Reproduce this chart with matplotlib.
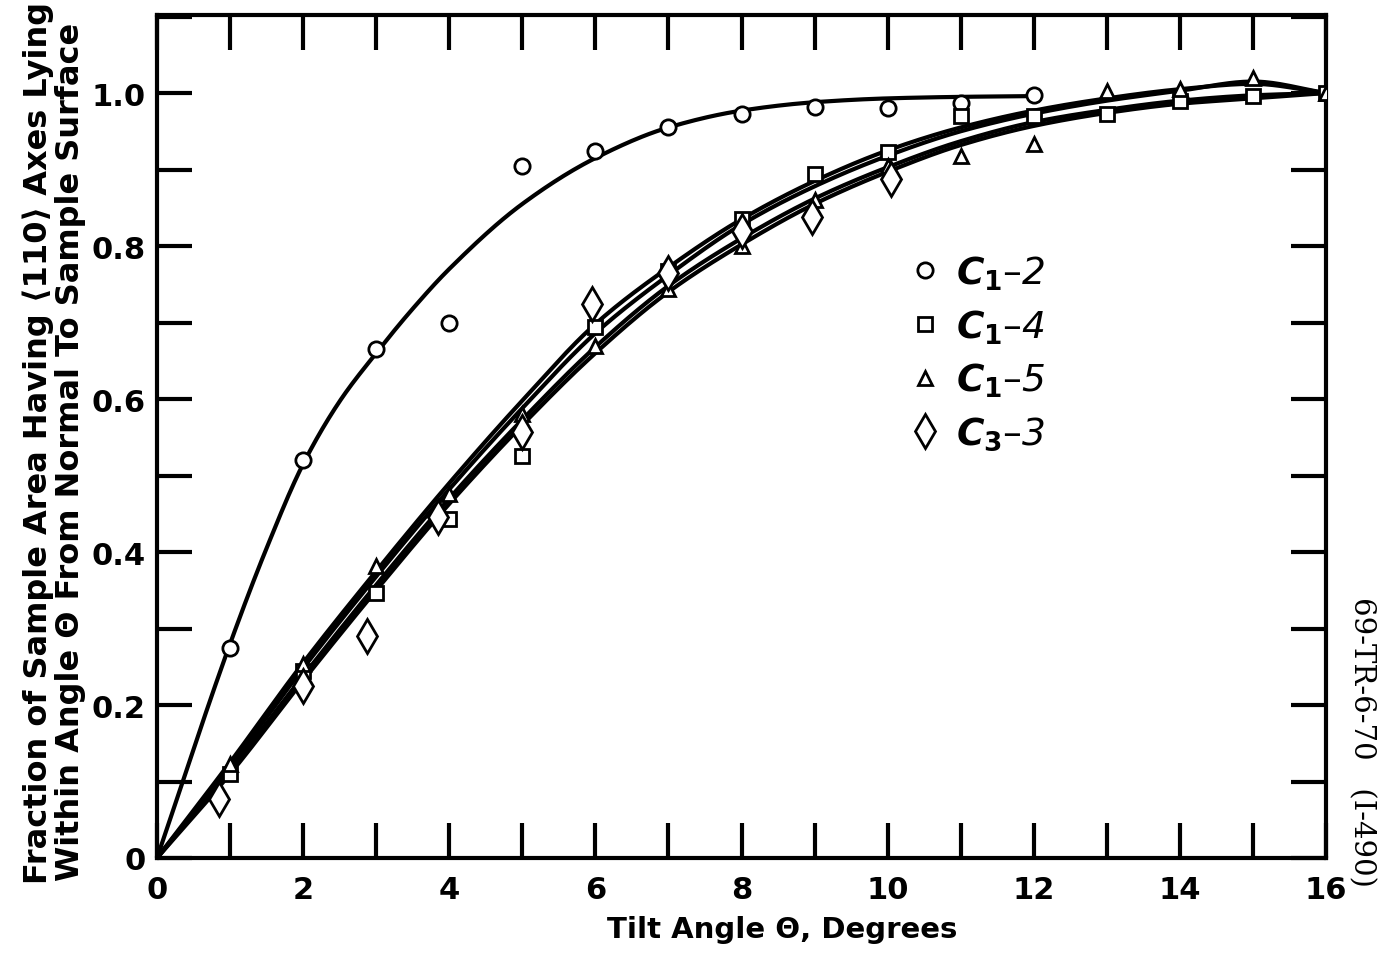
import numpy as np
import matplotlib
matplotlib.use("Agg")
import matplotlib.pyplot as plt

# ---------------- data ----------------
c12_x = [1, 2, 3, 4, 5, 6, 7, 8, 9, 10, 11, 12]
c12_y = [0.275, 0.52, 0.665, 0.70, 0.905, 0.924, 0.955, 0.973, 0.982, 0.981, 0.987, 0.998]

c14_x = [1, 2, 3, 4, 5, 6, 7, 8, 9, 10, 11, 12, 13, 14, 15, 16]
c14_y = [0.11, 0.245, 0.347, 0.443, 0.525, 0.694, 0.767, 0.835, 0.894, 0.923, 0.97, 0.97, 0.973, 0.99, 0.996, 1.0]

c15_x = [1, 2, 3, 4, 5, 6, 7, 8, 9, 10, 11, 12, 13, 14, 15, 16]
c15_y = [0.123, 0.254, 0.382, 0.476, 0.58, 0.669, 0.744, 0.80, 0.86, 0.905, 0.918, 0.933, 1.003, 1.005, 1.02, 1.0]

c33_x = [0.85, 2, 2.87, 3.85, 5, 5.95, 7, 8, 8.97, 10.04]
c33_y = [0.077, 0.225, 0.29, 0.446, 0.557, 0.724, 0.765, 0.82, 0.838, 0.888]

# fitted curves (read at knots)
fit12_x = [0, 1, 1.5, 2, 2.5, 3, 3.5, 4, 5, 6, 7, 8, 9, 10, 11, 12]
fit12_y = [0, 0.28, 0.405, 0.515, 0.597, 0.66, 0.718, 0.77, 0.855, 0.915, 0.955, 0.977, 0.988, 0.993, 0.995, 0.996]

fit_x = [0, 1, 2, 3, 4, 5, 6, 7, 8, 9, 10, 11, 12, 13, 14, 15, 16]
fit14_y = [0, 0.125, 0.255, 0.375, 0.49, 0.598, 0.698, 0.772, 0.835, 0.885, 0.925, 0.955, 0.977, 0.993, 1.005, 1.012, 1.0]
fit33_y = [0, 0.12, 0.248, 0.368, 0.482, 0.588, 0.686, 0.762, 0.828, 0.878, 0.918, 0.95, 0.973, 0.99, 1.003, 1.015, 1.0]
fit15_y = [0, 0.115, 0.238, 0.357, 0.47, 0.573, 0.668, 0.748, 0.81, 0.862, 0.903, 0.937, 0.962, 0.978, 0.99, 0.997, 1.0]
fitb_y = [0, 0.11, 0.232, 0.35, 0.463, 0.566, 0.66, 0.74, 0.802, 0.855, 0.897, 0.932, 0.957, 0.974, 0.986, 0.993, 1.0]

labels = [r'$C_{\mathit{1}}$–2', r'$C_{\mathit{1}}$–4', r'$C_{\mathit{1}}$–5', r'$C_{\mathit{3}}$–3']
xtick_labels = ['0', '', '2', '', '4', '', '6', '', '8', '', '10', '', '12', '', '14', '', '16']
ytick_labels = ['0', '', '0.2', '', '0.4', '', '0.6', '', '0.8', '', '1.0', '']


def pchip(xs, ys, n=30):
    """Monotone cubic rendering of a curve through its knots (drawing only)."""
    x = np.asarray(xs, float)
    y = np.asarray(ys, float)
    h = np.diff(x)
    d = np.diff(y) / h
    m = np.zeros_like(y)
    for k in range(1, len(x) - 1):
        if d[k - 1] * d[k] <= 0:
            m[k] = 0.0
        else:
            w1 = 2 * h[k] + h[k - 1]
            w2 = h[k] + 2 * h[k - 1]
            m[k] = (w1 + w2) / (w1 / d[k - 1] + w2 / d[k])
    m[0] = d[0]
    m[-1] = d[-1]
    X, Y = [], []
    for k in range(len(x) - 1):
        t = np.linspace(0, 1, n, endpoint=False)
        h00 = 2 * t ** 3 - 3 * t ** 2 + 1
        h10 = t ** 3 - 2 * t ** 2 + t
        h01 = -2 * t ** 3 + 3 * t ** 2
        h11 = t ** 3 - t ** 2
        X.append(x[k] + t * h[k])
        Y.append(h00 * y[k] + h10 * h[k] * m[k] + h01 * y[k + 1] + h11 * h[k] * m[k + 1])
    X.append([x[-1]])
    Y.append([y[-1]])
    return np.concatenate(X), np.concatenate(Y)


plt.rcParams['font.family'] = ['DejaVu Sans']
plt.rcParams['font.weight'] = 'bold'
plt.rcParams['mathtext.fontset'] = 'dejavusans'

fig = plt.figure(figsize=(13.8, 9.54), dpi=100)
ax = fig.add_axes([157 / 1380, 1 - 859 / 954, (1326 - 157) / 1380, (859 - 16) / 954])

# fitted lines
for fx, fy in [(fit12_x, fit12_y), (fit_x, fit14_y), (fit_x, fit33_y), (fit_x, fit15_y), (fit_x, fitb_y)]:
    sx, sy = pchip(fx, fy)
    ax.plot(sx, sy, color='black', lw=3.0, zorder=2, solid_capstyle='round')

mk = dict(linestyle='none', mfc='white', mec='black', mew=2.0, zorder=4)
ax.plot(c12_x, c12_y, marker='o', ms=11, label=labels[0], **mk)
ax.plot(c14_x, c14_y, marker='s', ms=10, label=labels[1], **mk)
ax.plot(c15_x, c15_y, marker='^', ms=10, label=labels[2], **mk)
ax.plot(c33_x, c33_y, marker='d', ms=17, label=labels[3], **mk)

ax.set_xlim(0, 16)
ax.set_ylim(0, 1.102)
ax.set_xticks(np.arange(0, 17, 1))
ax.set_xticklabels(xtick_labels)
ax.set_yticks(np.arange(0, 1.15, 0.1))
ax.set_yticklabels(ytick_labels)

for s in ax.spines.values():
    s.set_linewidth(3)
ax.tick_params(direction='in', length=25, width=3, top=True, right=True,
               labelsize=22)
ax.tick_params(axis='x', pad=12)
ax.tick_params(axis='y', pad=8)
for t in ax.get_xticklabels() + ax.get_yticklabels():
    t.set_fontweight('bold')

leg = ax.legend(loc='upper left', bbox_to_anchor=(0.647, 0.717), frameon=False,
                prop=dict(size=27, style='italic', weight='normal'),
                handlelength=0.6, handletextpad=0.55,
                labelspacing=0.41, borderpad=0, borderaxespad=0)

fig.text(782 / 1380, 1 - 930 / 954, 'Tilt Angle Θ, Degrees', ha='center', va='center',
         fontsize=21, fontweight='bold')

fig.text(38 / 1380, 1 - 443 / 954, 'Fraction of Sample Area Having ⟨110⟩ Axes Lying',
         rotation=90, ha='center', va='center', fontsize=23, fontweight='bold')
fig.text(71 / 1380, 1 - 452 / 954, 'Within Angle Θ From Normal To Sample Surface',
         rotation=90, ha='center', va='center', fontsize=23, fontweight='bold')

fig.text(1362 / 1380, 1 - 742 / 954, '69-TR-6-70   (I-490)', rotation=-90,
         ha='center', va='center', fontsize=21, family='DejaVu Serif',
         fontweight='normal')

fig.savefig('out.png', dpi=100)
